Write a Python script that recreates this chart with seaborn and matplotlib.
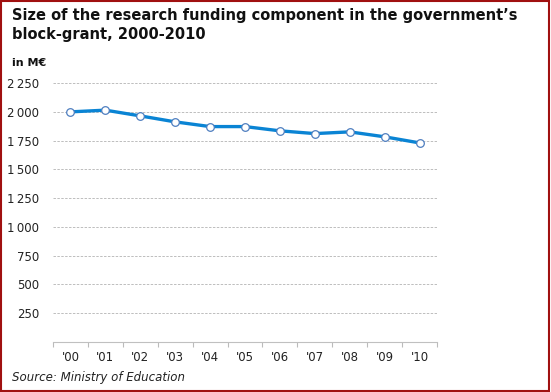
import matplotlib
matplotlib.use("Agg")
import matplotlib.pyplot as plt
import seaborn as sns
import pandas as pd
from matplotlib.patches import Rectangle

years = ["'00", "'01", "'02", "'03", "'04", "'05", "'06", "'07", "'08", "'09", "'10"]
values = [2000, 2015, 1965, 1913, 1872, 1872, 1835, 1811, 1826, 1783, 1730]
yticks = [250, 500, 750, 1000, 1250, 1500, 1750, 2000, 2250]
ytick_labels = ["250", "500", "750", "1\u2009000", "1\u2009250", "1\u2009500", "1\u2009750", "2\u2009000", "2\u2009250"]

sns.set_theme(style="white")
plt.rcParams['font.family'] = ['DejaVu Sans']

df = pd.DataFrame({"year": years, "value": values})

fig = plt.figure(figsize=(5.51, 3.92), dpi=100)
ax = fig.add_axes([53/551, 1 - 341.7/392, 384/551, (341.7 - 77.4)/392])

sns.lineplot(data=df, x="year", y="value", ax=ax, color="#0a84d4", linewidth=2.4,
             marker="o", markersize=5.5, markerfacecolor="white",
             markeredgecolor="#4f7fc0", markeredgewidth=0.9, zorder=3)

ax.set_xlim(-0.5, len(years) - 0.5)
ax.set_ylim(0, 2300)
ax.set_yticks(yticks)
ax.set_yticklabels(ytick_labels)
ax.set_xticks(range(len(years)))
ax.set_xticklabels(years)
ax.set_xticks([i - 0.5 for i in range(len(years) + 1)], minor=True)
ax.tick_params(axis="x", which="major", length=0, pad=7, labelsize=8.5, labelcolor="#222222")
ax.tick_params(axis="x", which="minor", length=3.5, color="#bbbbbb", width=0.8, bottom=True)
ax.tick_params(axis="y", length=0, pad=10, labelsize=8.5, labelcolor="#222222")
ax.set_xlabel("")
ax.set_ylabel("")

for y in yticks:
    ax.axhline(y, color="#bdbdbd", linewidth=0.7, linestyle=(0, (2.5, 1.5)), zorder=1)

for s in ["top", "right", "left"]:
    ax.spines[s].set_visible(False)
ax.spines["bottom"].set_color("#c0c0c0")
ax.spines["bottom"].set_linewidth(0.8)

fig.text(12/551, 1 - 8/392, "Size of the research funding component in the government\u2019s\nblock-grant, 2000-2010",
         fontsize=10.5, fontweight="bold", va="top", ha="left", color="#111111", linespacing=1.3)
fig.text(12/551, 1 - 63/392, "in M\u20ac", fontsize=8, fontweight="bold", va="center", ha="left", color="#111111")
fig.text(12/551, 1 - 378/392, "Source: Ministry of Education", fontsize=8.5, style="italic",
         va="center", ha="left", color="#222222")

fig.patches.append(Rectangle((0.002, 0.003), 0.995, 0.994, transform=fig.transFigure,
                             fill=False, edgecolor="#a01010", linewidth=1.5))

fig.savefig("out.png", dpi=100)
